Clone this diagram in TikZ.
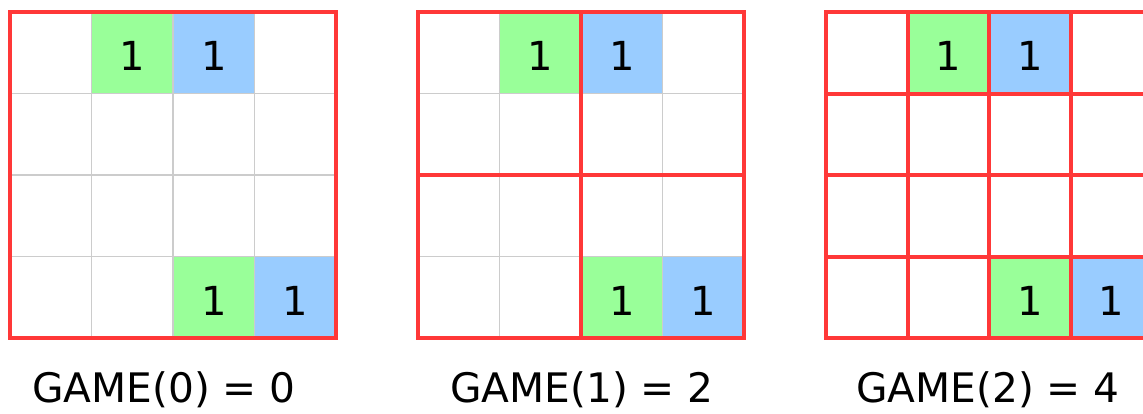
\documentclass[tikz,border=0pt]{standalone}
\usepackage{fontspec}
\setmainfont{DejaVu Sans}
\usetikzlibrary{positioning,calc}
\definecolor{gridred}{RGB}{255,56,56}
\definecolor{gridgray}{RGB}{204,204,204}
\definecolor{cellgreen}{RGB}{153,255,153}
\definecolor{cellblue}{RGB}{153,204,255}

\begin{document}
\begin{tikzpicture}[
  x=0.75pt,y=-0.75pt,
  cell/.style={draw=gridgray,line width=1.4pt,minimum size=61.1pt,
               inner sep=0pt,outer sep=0pt,text height=27pt,text depth=0pt,
               font=\fontsize{30}{34}\selectfont},
  redline/.style={draw=gridred,line width=3pt},
  gamelabel/.style={font=\fontsize{30.5}{34}\selectfont},
]
  \useasboundingbox (0,0) rectangle (1143,414);

  % Three 4x4 boards
  \foreach \g in {0,1,2} {
    \foreach \r in {0,...,3}
      \foreach \c in {0,...,3}
        \node[cell] (g\g-\r\c) at ({\g*408+10+(\c+0.5)*81.5},{12+(\r+0.5)*81.5}) {};
    % Filled cells
    \node[cell,fill=cellgreen] (g\g-01) at (g\g-01) {1};
    \node[cell,fill=cellblue]  (g\g-02) at (g\g-02) {1};
    \node[cell,fill=cellgreen] (g\g-32) at (g\g-32) {1};
    \node[cell,fill=cellblue]  (g\g-33) at (g\g-33) {1};
  }

  % GAME(1): split into 2x2 blocks
  \draw[redline] (g1-02.north west) -- (g1-32.south west);
  \draw[redline] (g1-20.north west) -- (g1-23.north east);

  % GAME(2): split into single cells
  \foreach \c in {1,2,3}
    \draw[redline] (g2-0\c.north west) -- (g2-3\c.south west);
  \foreach \r in {1,2,3}
    \draw[redline] (g2-\r0.north west) -- (g2-\r3.north east);

  % Outer borders and labels
  \foreach \g/\v/\lx in {0/0/164,1/2/582,2/4/988} {
    \draw[redline] (g\g-00.north west) rectangle (g\g-33.south east);
    \node[gamelabel] (lab\g) at (\lx,390) {GAME(\g) = \v};
  }
\end{tikzpicture}
\end{document}
